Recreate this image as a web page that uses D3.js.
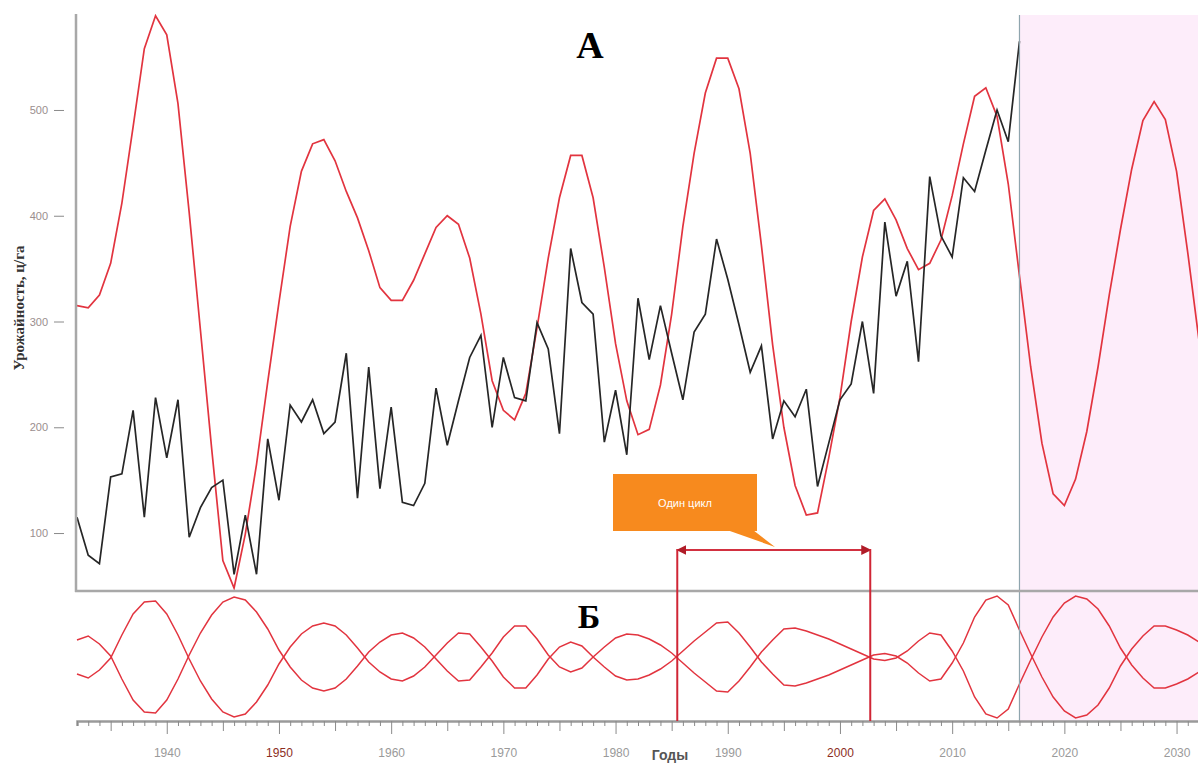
<!DOCTYPE html>
<html>
<head>
<meta charset="utf-8">
<script src="https://cdn.jsdelivr.net/npm/d3@7"></script>
<style>
  body { margin: 0; background: #fff; overflow: hidden; }
</style>
</head>
<body>
<div id="chart"></div>
<script>
var width = 1198, height = 763

var startYear = 1932
var forecastStart = 2016

// урожайность, ц/га (1932-2016)
var yieldValues = [115, 79, 71, 153, 156, 216, 115, 228, 171, 226,
  96, 124, 143, 150, 61, 117, 61, 189, 131, 221,
  205, 226, 194, 205, 270, 133, 257, 142, 219, 129,
  126, 147, 237, 183, 225, 266, 287, 200, 266, 228,
  225, 299, 274, 194, 369, 318, 307, 186, 235, 174,
  322, 264, 315, 270, 226, 290, 307, 378, 340, 297,
  252, 277, 189, 225, 210, 236, 144, 185, 226, 241,
  300, 232, 394, 324, 357, 262, 437, 381, 361, 436,
  423, 462, 500, 470, 565]

// модель (1932-2032)
var modelValues = [315, 313, 325, 355, 412, 484, 558, 589, 571, 506,
  403, 292, 180, 74, 48, 99, 165, 243, 318, 390,
  442, 468, 472, 452, 423, 398, 367, 332, 320, 320,
  339, 364, 389, 400, 392, 360, 307, 244, 216, 207,
  232, 294, 360, 417, 457, 457, 417, 351, 279, 225,
  193, 198, 240, 307, 390, 459, 516, 549, 549, 520,
  459, 372, 278, 200, 145, 117, 119, 171, 228, 300,
  361, 405, 416, 396, 369, 349, 355, 377, 419, 468,
  513, 521, 494, 430, 343, 257, 185, 137, 126, 151,
  196, 257, 325, 387, 444, 490, 508, 491, 442, 365,
  282]

// циклическая составляющая (1932-2032)
var cycleValues = [17, 21, 13, 1, -22, -43, -55, -56, -43, -22,
  2, 24, 42, 55, 60, 57, 45, 28, 7, -10,
  -23, -31, -34, -31, -22, -9, 5, 15, 22, 24,
  19, 10, -2, -14, -24, -23, -10, 4, 20, 31,
  31, 18, 2, -10, -15, -11, 0, 10, 19, 23,
  22, 18, 12, 4, -6, -16, -25, -34, -35, -24,
  -10, 5, 17, 28, 29, 26, 22, 18, 13, 8,
  3, -2, -3.5, -1, 6, 16, 24, 22, 6, -14,
  -40, -57, -61, -52, -27, -3, 20, 40, 54, 61,
  58, 48, 31, 9, -8, -21, -31, -31, -27, -22,
  -15]

var yTicks = [100, 200, 300, 400, 500]
var cycleFrom = 1985.5, cycleTo = 2002.7

var red = "#e2343f"

var svg = d3.select("#chart")
  .append("svg")
    .attr("width", width)
    .attr("height", height)

var x = d3.scaleLinear()
  .domain([1932, 2032])
  .range([77, 1199])

var y = d3.scaleLinear()
  .domain([45.2, 589.8])
  .range([591, 15])

var yc = d3.scaleLinear()
  .domain([-63, 63])
  .range([720, 594])

var yieldData = yieldValues.map((v, i) => ({year: startYear + i, v: v}))
var modelData = modelValues.map((v, i) => ({year: startYear + i, v: v}))
var cycleData = cycleValues.map((v, i) => ({year: startYear + i, v: v}))

// прогнозная область
svg.append("rect")
  .attr("x", x(forecastStart))
  .attr("y", 15)
  .attr("width", width - x(forecastStart))
  .attr("height", 721 - 15)
  .attr("fill", "#fdedfa")

var line = d3.line()
  .x(d => x(d.year))
  .y(d => y(d.v))

svg.append("path")
  .datum(modelData)
  .attr("fill", "none")
  .attr("stroke", red)
  .attr("stroke-width", 1.7)
  .attr("d", line)

svg.append("path")
  .datum(yieldData)
  .attr("fill", "none")
  .attr("stroke", "#262626")
  .attr("stroke-width", 1.7)
  .attr("d", line)

// нижняя панель: два зеркальных графика
var cycleUp = d3.line()
  .x(d => x(d.year))
  .y(d => yc(d.v))
var cycleDown = d3.line()
  .x(d => x(d.year))
  .y(d => yc(-d.v))

svg.append("path")
  .datum(cycleData)
  .attr("fill", "none")
  .attr("stroke", red)
  .attr("stroke-width", 1.5)
  .attr("d", cycleUp)
svg.append("path")
  .datum(cycleData)
  .attr("fill", "none")
  .attr("stroke", red)
  .attr("stroke-width", 1.5)
  .attr("d", cycleDown)

// граница прогноза
svg.append("line")
  .attr("x1", x(forecastStart)).attr("x2", x(forecastStart))
  .attr("y1", 15).attr("y2", 721)
  .attr("stroke", "#8fa5ae")
  .attr("stroke-width", 1.2)

// оси
var yAxis = svg.append("g")
  .attr("transform", "translate(64,0)")
  .call(d3.axisLeft(y).tickValues(yTicks).tickSize(10).tickPadding(6))
yAxis.select(".domain").remove()
yAxis.selectAll("line").attr("stroke", "#8a8a8a")
yAxis.selectAll("text")
  .style("font-family", "Liberation Sans, Arial, sans-serif")
  .style("font-size", "11px")
  .attr("fill", "#9a8e8e")

svg.append("line")
  .attr("x1", 76).attr("x2", 76)
  .attr("y1", 14).attr("y2", 592)
  .attr("stroke", "#a8a8a8")
  .attr("stroke-width", 2.5)

svg.append("line")
  .attr("x1", 75).attr("x2", width)
  .attr("y1", 591).attr("y2", 591)
  .attr("stroke", "#a8a8a8")
  .attr("stroke-width", 2.5)

var xAxis = svg.append("g")
  .attr("transform", "translate(0,721)")
  .call(d3.axisBottom(x)
    .tickValues(d3.range(1932, 2033))
    .tickSize(5)
    .tickPadding(22)
    .tickFormat(d => d % 10 === 0 ? d : ""))
xAxis.select(".domain")
  .attr("stroke", "#9a9a9a")
  .attr("stroke-width", 2.5)
xAxis.selectAll(".tick line")
  .attr("stroke", "#8a8a8a")
  .attr("y2", d => d % 10 === 0 ? 13 : d % 5 === 0 ? 10 : 5)
xAxis.selectAll(".tick text")
  .style("font-family", "Liberation Sans, Arial, sans-serif")
  .style("font-size", "12px")
  .attr("fill", d => d === 1950 || d === 2000 ? "#8c2e1e" : "#9a9a9a")

// подписи
svg.append("text")
  .attr("transform", "translate(19,308) rotate(-90)")
  .attr("text-anchor", "middle")
  .attr("dominant-baseline", "central")
  .style("font-family", "Liberation Serif, Times New Roman, serif")
  .style("font-weight", "bold")
  .style("font-size", "15px")
  .attr("fill", "#333")
  .text("Урожайность, ц/га")

svg.append("text")
  .attr("x", 670)
  .attr("y", 760)
  .attr("text-anchor", "middle")
  .style("font-family", "Liberation Sans, Arial, sans-serif")
  .style("font-weight", "bold")
  .style("font-size", "14px")
  .attr("fill", "#555")
  .text("Годы")

svg.append("text")
  .attr("x", 590)
  .attr("y", 58)
  .attr("text-anchor", "middle")
  .style("font-family", "Liberation Serif, Times New Roman, serif")
  .style("font-weight", "bold")
  .style("font-size", "38px")
  .attr("fill", "#000")
  .text("А")

svg.append("text")
  .attr("x", 589)
  .attr("y", 628)
  .attr("text-anchor", "middle")
  .style("font-family", "Liberation Serif, Times New Roman, serif")
  .style("font-weight", "bold")
  .style("font-size", "34px")
  .attr("fill", "#000")
  .text("Б")

// один цикл
var defs = svg.append("defs")
defs.append("marker")
  .attr("id", "arr")
  .attr("viewBox", "0 0 10 10")
  .attr("refX", 9).attr("refY", 5)
  .attr("markerWidth", 5).attr("markerHeight", 5)
  .attr("orient", "auto-start-reverse")
  .append("path")
    .attr("d", "M0,0L10,5L0,10z")
    .attr("fill", "#b01c28")

var bx1 = x(cycleFrom), bx2 = x(cycleTo)
svg.append("line")
  .attr("x1", bx1).attr("x2", bx2)
  .attr("y1", 550).attr("y2", 550)
  .attr("stroke", "#d23040")
  .attr("stroke-width", 2)
  .attr("marker-start", "url(#arr)")
  .attr("marker-end", "url(#arr)")
svg.selectAll(".bracket")
  .data([bx1, bx2])
  .enter()
  .append("line")
    .attr("class", "bracket")
    .attr("x1", d => d).attr("x2", d => d)
    .attr("y1", 549).attr("y2", 721)
    .attr("stroke", "#d02535")
    .attr("stroke-width", 2)

svg.append("path")
  .attr("d", "M727,530L753,530L775,547Z")
  .attr("fill", "#f78a1e")
svg.append("rect")
  .attr("x", 613).attr("y", 474)
  .attr("width", 144).attr("height", 57)
  .attr("fill", "#f78a1e")
svg.append("text")
  .attr("x", 685)
  .attr("y", 503)
  .attr("text-anchor", "middle")
  .attr("dominant-baseline", "central")
  .style("font-family", "Liberation Sans, Arial, sans-serif")
  .style("font-size", "11px")
  .attr("fill", "#fff")
  .text("Один цикл")
</script>
</body>
</html>
